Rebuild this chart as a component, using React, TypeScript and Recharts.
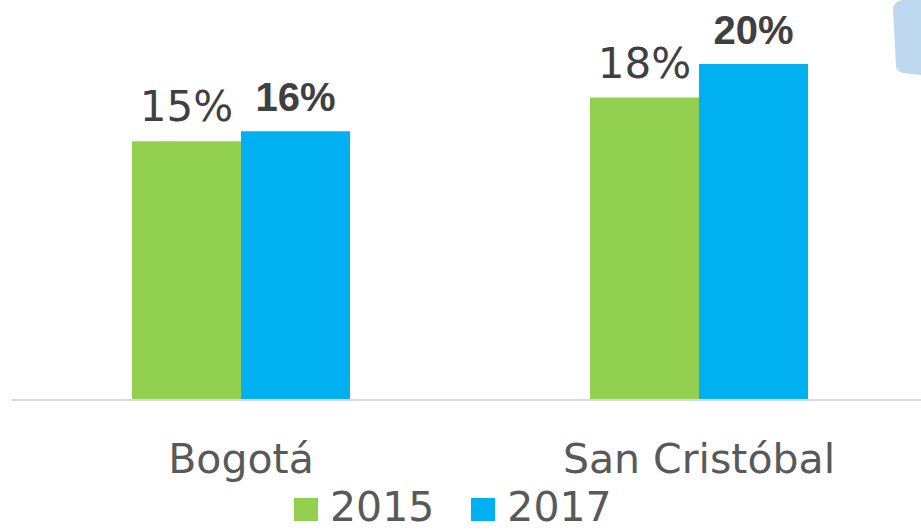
import { BarChart, Bar, XAxis, YAxis, Legend, LabelList } from "recharts";

const categories = ["Bogotá", "San Cristóbal"];
const values2015 = [15.4, 18];
const values2017 = [16, 20];
const seriesNames = ["2015", "2017"];

const data = categories.map((c, i) => ({
  name: c,
  y2015: values2015[i],
  y2017: values2017[i],
}));

const GREEN = "#92D050";
const BLUE = "#00B0F0";
const FONT = "'DejaVu Sans', Verdana, sans-serif";

function NormalLabel(props: any) {
  const { x, y, width, value } = props;
  return (
    <text
      x={x + width / 2}
      y={y - 20}
      textAnchor="middle"
      fill="#404040"
      fontFamily={FONT}
      fontSize={42}
    >
      {Math.round(value)}%
    </text>
  );
}

function BoldLabel(props: any) {
  const { x, y, width, value } = props;
  return (
    <text
      x={x + width / 2}
      y={y - 20}
      textAnchor="middle"
      fill="#404040"
      fontFamily="'Liberation Sans', Arial, sans-serif"
      fontWeight="bold"
      fontSize={40}
    >
      {Math.round(value)}%
    </text>
  );
}

function CategoryTick(props: any) {
  const { x, y, payload } = props;
  return (
    <text
      x={x}
      y={y + 65}
      textAnchor="middle"
      fill="#595959"
      fontFamily={FONT}
      fontSize={41}
    >
      {payload.value}
    </text>
  );
}

function LegendBox() {
  const colors = [GREEN, BLUE];
  return (
    <div
      style={{
        display: "flex",
        alignItems: "center",
        height: 50,
        paddingLeft: 294,
        fontFamily: FONT,
        fontSize: 41,
        color: "#595959",
      }}
    >
      {seriesNames.map((s, i) => (
        <div
          key={s}
          style={{ display: "flex", alignItems: "center", marginRight: 37 }}
        >
          <span
            style={{
              width: 24,
              height: 23,
              background: colors[i],
              display: "inline-block",
              marginRight: 12,
              marginTop: 4,
            }}
          />
          <span style={{ lineHeight: "46px" }}>{s}</span>
        </div>
      ))}
    </div>
  );
}

export default function App() {
  return (
    <div
      style={{
        position: "absolute",
        left: 0,
        top: 0,
        width: 921,
        height: 532,
        overflow: "hidden",
        background: "#fff",
      }}
    >
      <BarChart
        width={930}
        height={532}
        data={data}
        margin={{ top: 0, right: 2, bottom: 0, left: 12 }}
        barGap={0}
      >
        <XAxis
          dataKey="name"
          height={82}
          tickLine={false}
          axisLine={{ stroke: "#D9D9D9", strokeWidth: 2 }}
          tick={<CategoryTick />}
          interval={0}
        />
        <YAxis hide domain={[0, 23.81]} />
        <Legend
          verticalAlign="bottom"
          content={<LegendBox />}
          wrapperStyle={{ left: 0, width: 921 }}
        />
        <Bar dataKey="y2015" name="2015" fill={GREEN} barSize={109} isAnimationActive={false}>
          <LabelList dataKey="y2015" content={<NormalLabel />} />
        </Bar>
        <Bar dataKey="y2017" name="2017" fill={BLUE} barSize={109} isAnimationActive={false}>
          <LabelList dataKey="y2017" content={<BoldLabel />} />
        </Bar>
      </BarChart>
      <svg
        width={921}
        height={532}
        style={{ position: "absolute", left: 0, top: 0, pointerEvents: "none" }}
      >
        <path
          d="M893 8 Q894 2 902 0 L921 0 L921 75 L903 73 Q896 71 896 66 Z"
          fill="#BDD7EE"
        />
      </svg>
    </div>
  );
}
